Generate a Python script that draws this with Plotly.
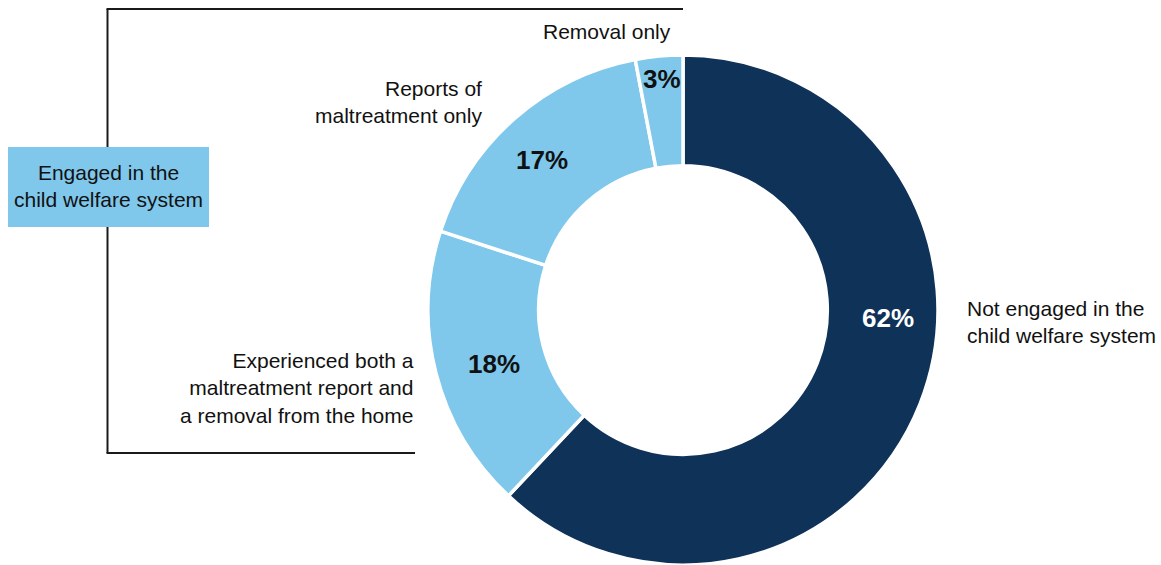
import plotly.graph_objects as go

W, H = 1161, 565

# Share of children by level of contact with the child welfare system
categories = [
    "Not engaged in the child welfare system",
    "Experienced both a maltreatment report and a removal from the home",
    "Reports of maltreatment only",
    "Removal only",
]
values = [62, 18, 17, 3]
slice_labels = [
    "Not engaged in the<br>child welfare system",
    "Experienced both a<br>maltreatment report and<br>a removal from the home",
    "Reports of<br>maltreatment only",
    "Removal only",
]
group_label = "Engaged in the<br>child welfare system"

NAVY = "#0F3258"
LIGHT = "#7FC8EC"
colors = [NAVY, LIGHT, LIGHT, LIGHT]
pct_colors = ["white", "#111111", "#111111", "#111111"]

FONT = "Liberation Sans, Arial, sans-serif"


def px(x, y):
    """Convert pixel coordinates (origin top-left) to paper coordinates."""
    return x / W, 1 - y / H


fig = go.Figure(
    go.Pie(
        labels=categories,
        values=values,
        hole=0.566,
        sort=False,
        direction="clockwise",
        rotation=0,
        marker=dict(colors=colors, line=dict(color="white", width=3.5)),
        textinfo="none",
        hoverinfo="label+percent",
        showlegend=False,
        domain=dict(x=[427 / W, 939 / W], y=[0, 1 - 55 / H]),
    )
)

annotations = []

# Percentage labels placed on the ring
pct_pos = [(888, 318), (494, 364), (542, 160), (662, 79)]
for v, (x, y), c in zip(values, pct_pos, pct_colors):
    ax, ay = px(x, y)
    annotations.append(dict(
        x=ax, y=ay, xref="paper", yref="paper", showarrow=False,
        text=f"<b>{v}%</b>", font=dict(family=FONT, size=26, color=c),
        xanchor="center", yanchor="middle",
    ))

# Category labels around the donut
label_pos = [
    ((965, 322), "left"),
    ((416, 388), "right"),
    ((484, 102), "right"),
    ((607, 31), "center"),
]
for text, ((x, y), anchor) in zip(slice_labels, label_pos):
    ax, ay = px(x, y)
    annotations.append(dict(
        x=ax, y=ay, xref="paper", yref="paper", showarrow=False,
        text=text, align=anchor, xanchor=anchor, yanchor="middle",
        font=dict(family=FONT, size=21, color="#111111"),
    ))

# Group label inside the bracket box
gx, gy = px(108.5, 186)
annotations.append(dict(
    x=gx, y=gy, xref="paper", yref="paper", showarrow=False,
    text=group_label, align="center", xanchor="center", yanchor="middle",
    font=dict(family=FONT, size=21, color="#111111"),
))

# Bracket linking the three engaged segments
shapes = []
line_style = dict(color="#1a1a1a", width=2)
for (x0, y0, x1, y1) in [
    (107.5, 9, 107.5, 147),
    (106.5, 9, 683, 9),
    (107.5, 227, 107.5, 453),
    (106.5, 453, 415, 453),
]:
    a0, b0 = px(x0, y0)
    a1, b1 = px(x1, y1)
    shapes.append(dict(type="line", xref="paper", yref="paper",
                       x0=a0, y0=b0, x1=a1, y1=b1, line=line_style))

bx0, by0 = px(8, 147)
bx1, by1 = px(209, 227)
shapes.append(dict(type="rect", xref="paper", yref="paper",
                   x0=bx0, y0=by1, x1=bx1, y1=by0,
                   fillcolor=LIGHT, line=dict(width=0), layer="below"))

fig.update_layout(
    width=W, height=H,
    margin=dict(l=0, r=0, t=0, b=0),
    paper_bgcolor="white", plot_bgcolor="white",
    annotations=annotations, shapes=shapes,
    font=dict(family=FONT),
)

fig.write_html("out.html")
